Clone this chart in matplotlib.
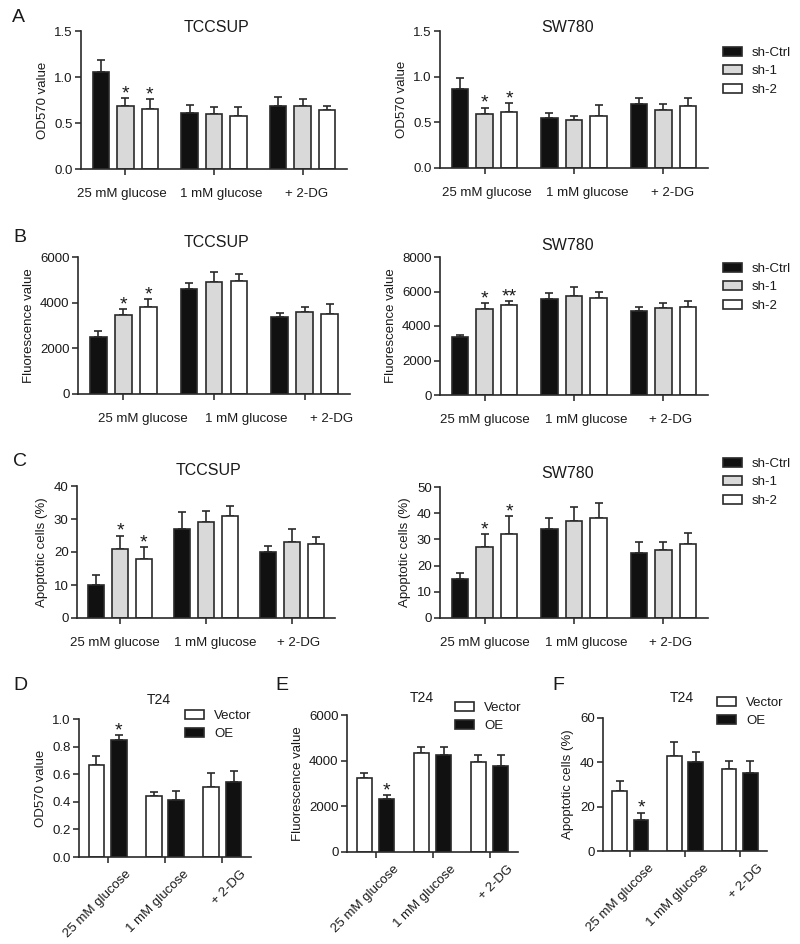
import matplotlib
matplotlib.use('Agg')
import matplotlib.pyplot as plt
from matplotlib.patches import Patch
from matplotlib.transforms import ScaledTranslation
from matplotlib.ticker import FormatStrFormatter
import numpy as np

plt.rcParams['font.family'] = ['Liberation Sans', 'DejaVu Sans']
plt.rcParams['text.color'] = '#1a1a1a'
plt.rcParams['axes.labelcolor'] = '#1a1a1a'
plt.rcParams['xtick.color'] = '#333333'
plt.rcParams['ytick.color'] = '#333333'
plt.rcParams['xtick.labelcolor'] = '#1a1a1a'
plt.rcParams['ytick.labelcolor'] = '#1a1a1a'

# ---------------- data ----------------
conditions = ['25 mM glucose', '1 mM glucose', '+ 2-DG']
sh_labels = ['sh-Ctrl', 'sh-1', 'sh-2']
oe_labels = ['Vector', 'OE']

# A: OD570
a_tccsup_mean = [[1.05, 0.61, 0.68], [0.68, 0.60, 0.68], [0.65, 0.58, 0.64]]
a_tccsup_sd = [[0.14, 0.09, 0.10], [0.09, 0.07, 0.08], [0.11, 0.09, 0.04]]
a_sw780_mean = [[0.87, 0.55, 0.70], [0.59, 0.53, 0.64], [0.61, 0.57, 0.68]]
a_sw780_sd = [[0.11, 0.05, 0.07], [0.07, 0.04, 0.06], [0.10, 0.12, 0.09]]

# B: fluorescence
b_tccsup_mean = [[2480, 4590, 3390], [3460, 4900, 3570], [3820, 4940, 3510]]
b_tccsup_sd = [[280, 290, 140], [250, 440, 230], [330, 310, 410]]
b_sw780_mean = [[3350, 5580, 4880], [4980, 5730, 5040], [5190, 5620, 5110]]
b_sw780_sd = [[140, 330, 250], [350, 520, 310], [250, 330, 330]]

# C: apoptotic cells
c_tccsup_mean = [[10, 27, 20], [21, 29, 23], [18, 31, 22.3]]
c_tccsup_sd = [[3, 5, 1.8], [4, 3.3, 4], [3.5, 2.8, 2.2]]
c_sw780_mean = [[15, 34, 25], [27, 37, 26], [32, 38, 28.4]]
c_sw780_sd = [[2, 4, 4], [5, 5.2, 3], [7, 5.9, 4.1]]

# D-F: T24 overexpression
d_mean = [[0.67, 0.44, 0.51], [0.85, 0.41, 0.54]]
d_sd = [[0.06, 0.03, 0.10], [0.035, 0.07, 0.085]]
e_mean = [[3250, 4350, 3950], [2310, 4260, 3760]]
e_sd = [[200, 250, 280], [180, 340, 500]]
f_mean = [[27, 43, 37], [14, 40, 35]]
f_sd = [[4.4, 6, 3.5], [3.3, 4.8, 5.8]]

# significance marks: (series, group, text)
sh_stars = [(1, 0, '*'), (2, 0, '*')]
b_sw780_stars = [(1, 0, '*'), (2, 0, '**')]
oe_stars = [(1, 0, '*')]

# ---------------- style ----------------
sh_colors = ['#111111', '#d9d9d9', '#ffffff']
oe_colors = ['#ffffff', '#111111']
edge = '#2a2a2a'
LW = 1.2

W, H = 800, 944
fig = plt.figure(figsize=(W / 100, H / 100), dpi=100)


def add_ax(l, t, r, b):
    return fig.add_axes([l / W, 1 - b / H, (r - l) / W, (b - t) / H])


def fx(px):
    return px / W


def fy(py):
    return 1 - py / H


def draw(ax, means, sds, colors, offsets, width, stars, ymax, yticks, ylabel,
         rotate=False, label_shift=(0, 0, 0)):
    x = np.arange(len(conditions))
    for i, (m, s) in enumerate(zip(means, sds)):
        xs = x + offsets[i]
        ax.bar(xs, m, width, color=colors[i], edgecolor=edge, linewidth=LW,
               zorder=2)
        ax.errorbar(xs, m, yerr=[np.zeros(len(s)), s], fmt='none',
                    ecolor=edge, elinewidth=LW, capsize=3.2, capthick=LW,
                    zorder=1)
    for (si, gi, txt) in stars:
        xx = x[gi] + offsets[si]
        yy = means[si][gi] + sds[si][gi]
        ax.annotate(txt, xy=(xx, yy), xytext=(0, -3), textcoords='offset points',
                    ha='center', va='bottom', fontsize=14)
    ax.set_xlim(-0.5, 2.5)
    ax.set_ylim(0, ymax)
    ax.set_yticks(yticks)
    ax.set_xticks(x)
    for sp in ['top', 'right']:
        ax.spines[sp].set_visible(False)
    for sp in ['left', 'bottom']:
        ax.spines[sp].set_linewidth(LW)
        ax.spines[sp].set_color(edge)
    ax.tick_params(axis='y', direction='out', length=4, width=LW, pad=2,
                   labelsize=9.5)
    ax.tick_params(axis='x', direction='out', length=4, width=LW,
                   pad=7 if rotate else 10, labelsize=9.5)
    ax.set_ylabel(ylabel, fontsize=9.5, labelpad=4)
    if rotate:
        ax.set_xticklabels(conditions, rotation=45, ha='right', va='top')
        off = ScaledTranslation(0.26, 0.04, fig.dpi_scale_trans)
        for lab in ax.get_xticklabels():
            lab.set_transform(lab.get_transform() + off)
    else:
        ax.set_xticklabels(conditions)
        for lab, dx in zip(ax.get_xticklabels(), label_shift):
            lab.set_transform(lab.get_transform() +
                              ScaledTranslation(dx / 100, 0, fig.dpi_scale_trans))


sh_off = [-0.275, 0.0, 0.275]
sh_w = 0.185
oe_off = [-0.195, 0.195]
oe_w = 0.27

# A
axA1 = add_ax(81, 31, 347, 169)
draw(axA1, a_tccsup_mean, a_tccsup_sd, sh_colors, sh_off, sh_w, sh_stars,
     1.5, [0.0, 0.5, 1.0, 1.5], 'OD570 value', label_shift=(-3, 7, 4))
axA1.yaxis.set_major_formatter(FormatStrFormatter('%.1f'))
axA2 = add_ax(440, 31, 708, 168)
draw(axA2, a_sw780_mean, a_sw780_sd, sh_colors, sh_off, sh_w, sh_stars,
     1.5, [0.0, 0.5, 1.0, 1.5], 'OD570 value', label_shift=(2, 13, 9))
axA2.yaxis.set_major_formatter(FormatStrFormatter('%.1f'))

# B
axB1 = add_ax(78, 257, 350, 394)
draw(axB1, b_tccsup_mean, b_tccsup_sd, sh_colors, sh_off, sh_w, sh_stars,
     6000, [0, 2000, 4000, 6000], 'Fluorescence value', label_shift=(20, 32, 27))
axB2 = add_ax(440, 257, 708, 395)
draw(axB2, b_sw780_mean, b_sw780_sd, sh_colors, sh_off, sh_w, b_sw780_stars,
     8000, [0, 2000, 4000, 6000, 8000], 'Fluorescence value',
     label_shift=(0, 12, 7))

# C
axC1 = add_ax(77, 486, 335, 618)
draw(axC1, c_tccsup_mean, c_tccsup_sd, sh_colors, sh_off, sh_w, sh_stars,
     40, [0, 10, 20, 30, 40], 'Apoptotic cells (%)', label_shift=(-5, 9, 7))
axC2 = add_ax(440, 487, 708, 618)
draw(axC2, c_sw780_mean, c_sw780_sd, sh_colors, sh_off, sh_w, sh_stars,
     50, [0, 10, 20, 30, 40, 50], 'Apoptotic cells (%)', label_shift=(0, 12, 7))

# D-F
axD = add_ax(79, 719, 251, 857)
draw(axD, d_mean, d_sd, oe_colors, oe_off, oe_w, oe_stars,
     1.0, [0.0, 0.2, 0.4, 0.6, 0.8, 1.0], 'OD570 value', rotate=True)
axD.yaxis.set_major_formatter(FormatStrFormatter('%.1f'))
axE = add_ax(347, 715, 518, 852)
draw(axE, e_mean, e_sd, oe_colors, oe_off, oe_w, oe_stars,
     6000, [0, 2000, 4000, 6000], 'Fluorescence value', rotate=True)
axF = add_ax(603, 718, 767, 851)
draw(axF, f_mean, f_sd, oe_colors, oe_off, oe_w, oe_stars,
     60, [0, 20, 40, 60], 'Apoptotic cells (%)', rotate=True)

# titles
titles = [('TCCSUP', 216, 28, 11.5), ('SW780', 568, 28, 11.5),
          ('TCCSUP', 216, 243, 11.5), ('SW780', 568, 245, 11.5),
          ('TCCSUP', 208, 471, 11.5), ('SW780', 568, 473, 11.5),
          ('T24', 159, 700, 10), ('T24', 422, 698, 10), ('T24', 682, 698, 10)]
for t, x, y, s in titles:
    fig.text(fx(x), fy(y), t, ha='center', va='center', fontsize=s)

letters = [('A', 12, 17), ('B', 13, 238), ('C', 13, 462),
           ('D', 13, 686), ('E', 275, 685), ('F', 552, 685)]
for t, x, y in letters:
    fig.text(fx(x), fy(y), t, ha='left', va='center', fontsize=14)

# legends
sh_handles = [Patch(facecolor=c, edgecolor=edge, linewidth=LW) for c in sh_colors]
oe_handles = [Patch(facecolor=c, edgecolor=edge, linewidth=LW) for c in oe_colors]


def legend(ax, handles, labels, x, y):
    ax.legend(handles, labels, loc='upper left',
              bbox_to_anchor=(fx(x), fy(y)), bbox_transform=fig.transFigure,
              frameon=False, fontsize=9.5, handlelength=1.45,
              handleheight=0.65, handletextpad=0.75, labelspacing=0.48,
              borderpad=0, borderaxespad=0)


legend(axA2, sh_handles, sh_labels, 723, 47)
legend(axB2, sh_handles, sh_labels, 723, 263)
legend(axC2, sh_handles, sh_labels, 723, 458)
legend(axD, oe_handles, oe_labels, 185, 710)
legend(axE, oe_handles, oe_labels, 455, 702)
legend(axF, oe_handles, oe_labels, 717, 697)

fig.savefig('out.png', dpi=100)
